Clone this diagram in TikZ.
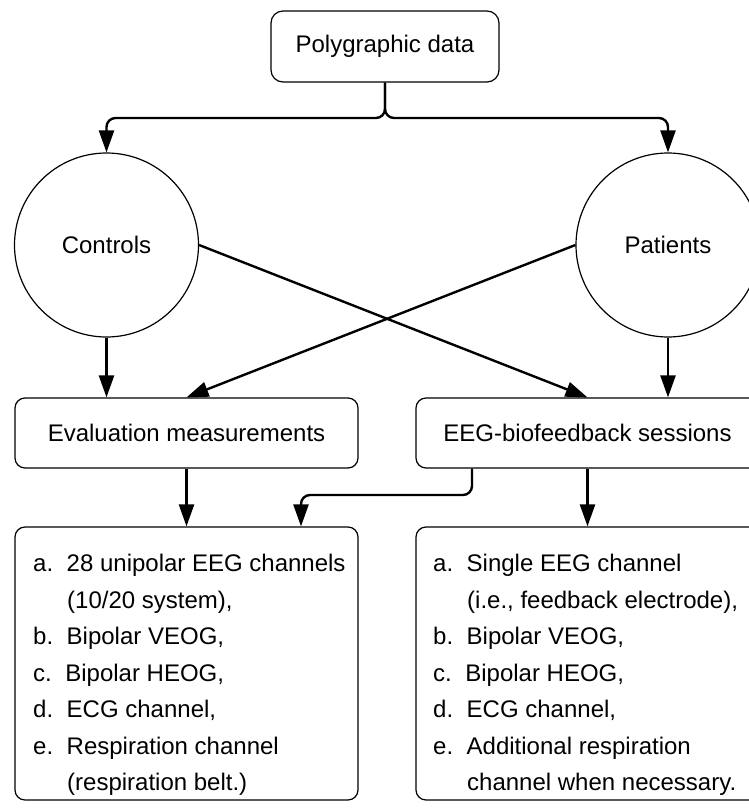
\documentclass[tikz,border=0pt]{standalone}
\usepackage{fontspec}
\setmainfont{Liberation Sans}
\usetikzlibrary{arrows.meta,calc}

\tikzset{
  txt/.style={font=\fontsize{24}{29}\selectfont, inner sep=0pt},
  box/.style={draw, line width=1.2pt, rounded corners=10pt, inner sep=0pt,
              minimum width=343pt, txt},
  ball/.style={draw, circle, line width=1.2pt, minimum size=184pt, inner sep=0pt, txt},
  arr/.style={line width=2.4pt, -{Triangle[length=22pt,width=15pt]}},
  link/.style={line width=2.4pt},
  itm/.style={txt, anchor=base west}
}
\newcommand{\lbl}[1]{#1\hspace{13.5pt}}

\begin{document}
\begin{tikzpicture}[x=1pt, y=-1pt]
  \useasboundingbox (0,0) rectangle (749,809);
  \clip (0,0) rectangle (749,809);

  % source
  \node[box, minimum width=228pt, minimum height=71pt, rounded corners=12pt]
        (src) at (385,46.5) {Polygraphic data};

  % groups
  \node[ball] (ctl) at (106.5,245) {Controls};
  \node[ball] (pat) at (668,245) {Patients};

  % procedures
  \node[box, minimum height=70pt] (eval) at (186.5,433) {Evaluation measurements};
  \node[box, minimum height=70pt] (eeg)  at (587.5,433) {EEG-biofeedback sessions};

  % recorded channels
  \node[box, minimum height=273pt] (recA) at (186.5,663.5) {};
  \node[box, minimum height=273pt] (recB) at (587.5,663.5) {};

  \node[itm] (a1) at (33,571.5) {\lbl{a.}28 unipolar EEG channels};
  \node[itm] (a2) at (67,608)   {(10/20 system),};
  \node[itm] (a3) at (33,644.5) {\lbl{b.}Bipolar VEOG,};
  \node[itm] (a4) at (33,681)   {\lbl{c.}Bipolar HEOG,};
  \node[itm] (a5) at (33,717.5) {\lbl{d.}ECG channel,};
  \node[itm] (a6) at (33,754)   {\lbl{e.}Respiration channel};
  \node[itm] (a7) at (67,790.5) {(respiration belt.)};

  \node[itm] (b1) at (433,571.5) {\lbl{a.}Single EEG channel};
  \node[itm] (b2) at (467,608)   {(i.e., feedback electrode),};
  \node[itm] (b3) at (433,644.5) {\lbl{b.}Bipolar VEOG,};
  \node[itm] (b4) at (433,681)   {\lbl{c.}Bipolar HEOG,};
  \node[itm] (b5) at (433,717.5) {\lbl{d.}ECG channel,};
  \node[itm] (b6) at (433,754)   {\lbl{e.}Additional respiration};
  \node[itm] (b7) at (467,790.5) {channel when necessary.};

  % split from the source into both groups
  \coordinate (split) at (385,118);
  \draw[arr, rounded corners=9pt] (src.south) -- (split) -| (ctl.north);
  \draw[arr, rounded corners=9pt] (src.south) -- (split) -| (pat.north);

  % groups to procedures
  \draw[arr] (ctl.south) -- (ctl.south |- eval.north);
  \draw[arr] (pat.south) -- (pat.south |- eeg.north);
  \draw[arr] (ctl.east) -- (eeg.north);
  \draw[arr] (pat.west) -- (eval.north);

  % procedures to channel lists
  \draw[arr] (eval.south) -- (recA.north);
  \draw[arr] (eeg.south) -- (recB.north);
  \coordinate (fbout) at (472,468);
  \coordinate (fbin) at (301,527);
  \draw[arr, rounded corners=9pt] (eeg.south -| fbout) -- (472,495) -| (recA.north -| fbin);
\end{tikzpicture}
\end{document}
